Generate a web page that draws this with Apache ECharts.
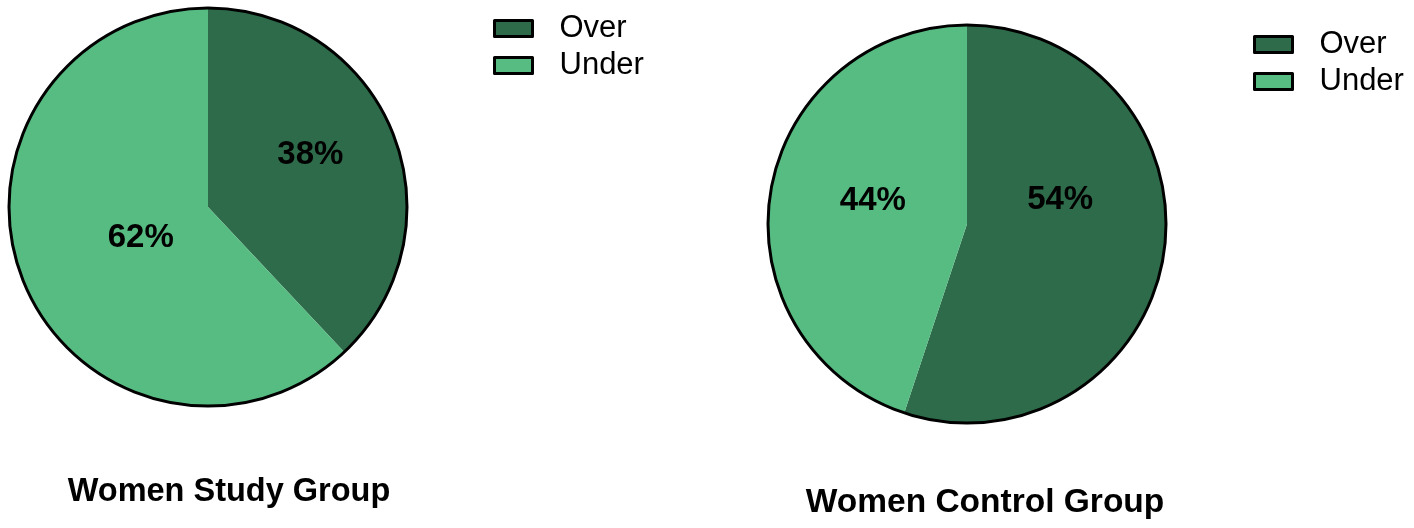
<!DOCTYPE html>
<html>
<head>
<meta charset="utf-8">
<script src="https://cdn.jsdelivr.net/npm/echarts@6/dist/echarts.min.js"></script>
<style>html,body{margin:0;padding:0;background:#fff}#c{width:1414px;height:528px}</style>
</head>
<body>
<div id="c"></div>
<script>
var categories = ['Over', 'Under'];
var studyValues = [38, 62];
var controlValues = [54, 44];
var titles = ['Women Study Group', 'Women Control Group'];
var colors = ['#2e6b4a', '#57bc82'];

var FONT = 'Liberation Sans, Arial, sans-serif';
function pieData(vals) {
  return categories.map(function (c, i) {
    return { name: c, value: vals[i], itemStyle: { color: colors[i] } };
  });
}
function pieSeries(vals, center, shifts) {
  return {
    type: 'pie',
    center: center,
    radius: 199,
    startAngle: 90,
    clockwise: true,
    silent: true,
    animation: false,
    itemStyle: { borderColor: '#000', borderWidth: 0 },
    label: {
      show: true, position: 'inside', formatter: '{c}%',
      color: '#000', fontFamily: FONT, fontWeight: 'bold', fontSize: 33
    },
    labelLayout: function (p) { var s = shifts[p.dataIndex]; return { dx: s[0], dy: s[1] }; },
    labelLine: { show: false },
    data: pieData(vals)
  };
}
function outline(center) {
  return {
    type: 'pie', center: center, radius: 199, silent: true, animation: false,
    label: { show: false }, labelLine: { show: false }, z: 3,
    itemStyle: { color: 'transparent', borderColor: '#000', borderWidth: 3 },
    data: [{ name: '_o', value: 1 }], legendHoverLink: false
  };
}
function legend(left, top) {
  return {
    left: left, top: top, orient: 'vertical', itemWidth: 38, itemHeight: 16, itemGap: 6,
    icon: 'rect', selectedMode: false, data: categories,
    itemStyle: { borderColor: '#000', borderWidth: 3 },
    textStyle: { fontFamily: FONT, fontSize: 31, color: '#000', padding: [0, 0, 0, 22] }
  };
}
var chart = echarts.init(document.getElementById('c'), null, { renderer: 'canvas' });
chart.setOption({
  backgroundColor: '#fff',
  animation: false,
  title: [
    { text: titles[0], left: 224, top: 471, textAlign: 'center',
      textStyle: { fontFamily: FONT, fontWeight: 'bold', fontSize: 32.5, color: '#000' } },
    { text: titles[1], left: 980, top: 481, textAlign: 'center',
      textStyle: { fontFamily: FONT, fontWeight: 'bold', fontSize: 33.5, color: '#000' } }
  ],
  legend: [legend(488, 8), legend(1248, 24)],
  series: [
    pieSeries(studyValues, [208, 207], [[7, -14], [28, -7]]),
    outline([208, 207]),
    pieSeries(controlValues, [967, 224], [[-8, -40], [7, -7]]),
    outline([967, 224])
  ]
});
</script>
</body>
</html>
